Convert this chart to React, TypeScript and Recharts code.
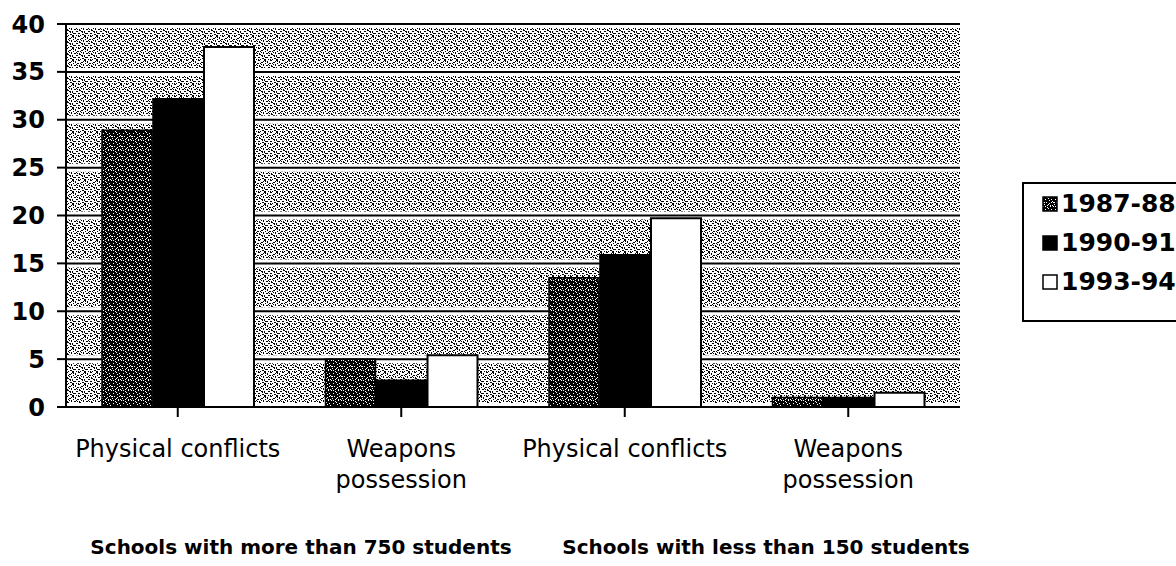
import React from 'react';
import {
    Bar,
    BarChart,
    CartesianGrid,
    Legend,
    XAxis,
    YAxis,
} from 'recharts';

const categoryKeys = ['big-physical', 'big-weapons', 'small-physical', 'small-weapons'];
const categoryLabels = [['Physical conflicts'], ['Weapons', 'possession'], ['Physical conflicts'], ['Weapons', 'possession']];
const values198788 = [28.9, 5, 13.5, 1];
const values199091 = [32.2, 2.8, 15.9, 1];
const values199394 = [37.6, 5.4, 19.7, 1.5];
const seriesNames = ['1987-88', '1990-91', '1993-94'];
const yTicks = [0, 5, 10, 15, 20, 25, 30, 35, 40];
const groupLabels = ['Schools with more than 750 students', 'Schools with less than 150 students'];

const FONT = '"DejaVu Sans", Verdana, sans-serif';

const chartData = categoryKeys.map((key, i) => ({
    key,
    [seriesNames[0]]: values198788[i],
    [seriesNames[1]]: values199091[i],
    [seriesNames[2]]: values199394[i],
}));

// grey noise for the plot background
const bgDots = [
    [0, 0, 2, 1], [3, 1, 1, 2], [6, 0, 2, 1], [9, 2, 2, 1], [1, 3, 1, 1], [5, 3, 2, 1],
    [11, 4, 1, 2], [2, 5, 2, 1], [7, 5, 1, 2], [0, 7, 1, 2], [4, 7, 2, 1], [9, 7, 2, 1],
    [2, 9, 1, 1], [6, 9, 2, 1], [10, 10, 2, 1], [0, 11, 2, 1], [4, 11, 1, 1], [8, 11, 1, 1],
    [3, 2, 1, 1], [8, 3, 1, 1], [10, 8, 1, 1], [1, 9, 1, 1], [5, 5, 1, 1], [8, 6, 1, 1],
    [3, 9, 1, 1], [11, 1, 1, 1], [6, 11, 1, 1], [1, 1, 1, 1], [9, 4, 1, 1], [4, 4, 1, 1],
];
// white specks for the dark 1987-88 bars
const darkDots = [
    [1, 0, 1, 1], [5, 1, 1, 1], [8, 0, 1, 1], [3, 3, 1, 1], [7, 4, 1, 1], [0, 5, 1, 1],
    [4, 6, 1, 1], [9, 6, 1, 1], [2, 8, 1, 1], [6, 8, 1, 1], [0, 9, 1, 1], [8, 9, 1, 1],
    [3, 0, 1, 1], [6, 2, 1, 1], [9, 3, 1, 1], [1, 6, 2, 1], [5, 9, 1, 1], [7, 7, 1, 1],
];

function CategoryTick(props: any) {
    const { x, y, payload } = props;
    const lines = categoryLabels[payload.index] || [];
    return (
        <text x={x} y={y + 38} textAnchor='middle' fontFamily={FONT} fontSize={24} fill='#000'>
            {lines.map((line, i) => (
                <tspan key={i} x={x} dy={i === 0 ? 0 : 31}>
                    {line}
                </tspan>
            ))}
        </text>
    );
}

function Swatch({ index }: { index: number }) {
    const fill = index === 0 ? 'url(#darkStipple)' : index === 1 ? '#000' : '#fff';
    return (
        <svg width={16} height={16} style={{ marginRight: 3 }}>
            <rect x={1} y={1} width={14} height={14} fill={fill} stroke='#000' strokeWidth={1.5} />
        </svg>
    );
}

function LegendBox() {
    return (
        <div
            style={{
                position: 'absolute',
                left: 1022,
                top: 182,
                width: 170,
                height: 140,
                border: '2px solid #000',
                boxSizing: 'border-box',
                background: '#fff',
                fontFamily: FONT,
                fontWeight: 'bold',
                fontSize: 25,
                padding: '0 0 0 18px',
            }}
        >
            {seriesNames.map((name, i) => (
                <div key={name} style={{ display: 'flex', alignItems: 'center', height: 39 }}>
                    <Swatch index={i} />
                    {name}
                </div>
            ))}
        </div>
    );
}

function App() {
    return (
        <div style={{ position: 'relative', width: 1176, height: 566, background: '#fff', overflow: 'hidden' }}>
            <style>{'body{margin:0;}'}</style>
            <BarChart
                width={1176}
                height={566}
                data={chartData}
                margin={{ top: 24, right: 216, left: 0, bottom: 0 }}
                barSize={50}
                barGap={1}
            >
                <defs>
                    <pattern id='bgStipple' width='12' height='12' patternUnits='userSpaceOnUse'>
                        <rect width='12' height='12' fill='#ffffff' />
                        {bgDots.map(([x, y, w, h], i) => (
                            <rect key={i} x={x} y={y} width={w} height={h} fill='#000' />
                        ))}
                    </pattern>
                    <pattern id='darkStipple' width='10' height='10' patternUnits='userSpaceOnUse'>
                        <rect width='10' height='10' fill='#000' />
                        {darkDots.map(([x, y, w, h], i) => (
                            <rect key={i} x={x} y={y} width={w} height={h} fill='#fff' />
                        ))}
                    </pattern>
                </defs>
                <CartesianGrid
                    vertical={false}
                    fill='url(#bgStipple)'
                    fillOpacity={1}
                    stroke='#fff'
                    strokeWidth={8}
                />
                <CartesianGrid vertical={false} stroke='#000' strokeWidth={2} />
                <XAxis
                    dataKey='key'
                    height={159}
                    tick={<CategoryTick />}
                    tickSize={10}
                    tickLine={{ stroke: '#000', strokeWidth: 2 }}
                    axisLine={{ stroke: '#000', strokeWidth: 2 }}
                    interval={0}
                    scale='band'
                />
                <YAxis
                    domain={[0, 40]}
                    ticks={yTicks}
                    width={66}
                    tickSize={9}
                    tickMargin={12}
                    tick={{ fill: '#000', fontSize: 24, fontWeight: 'bold', fontFamily: FONT }}
                    tickLine={{ stroke: '#000', strokeWidth: 2 }}
                    axisLine={{ stroke: '#000', strokeWidth: 2 }}
                    interval={0}
                />
                <YAxis
                    yAxisId='right'
                    orientation='right'
                    domain={[0, 40]}
                    width={0}
                    tick={false}
                    tickLine={false}
                    axisLine={{ stroke: '#000', strokeWidth: 2 }}
                />
                <Legend content={() => null} />
                <Bar dataKey={seriesNames[0]} fill='url(#darkStipple)' stroke='#000' strokeWidth={1.5} isAnimationActive={false} />
                <Bar dataKey={seriesNames[1]} fill='#000' stroke='#000' strokeWidth={1.5} isAnimationActive={false} />
                <Bar dataKey={seriesNames[2]} fill='#fff' stroke='#000' strokeWidth={2} isAnimationActive={false} />
            </BarChart>
            <LegendBox />
            {groupLabels.map((label, i) => (
                <div
                    key={label}
                    style={{
                        position: 'absolute',
                        top: 537,
                        left: i === 0 ? 301 : 766,
                        transform: 'translateX(-50%)',
                        whiteSpace: 'nowrap',
                        fontFamily: FONT,
                        fontWeight: 'bold',
                        fontSize: 20,
                        lineHeight: '20px',
                    }}
                >
                    {label}
                </div>
            ))}
        </div>
    );
}

export default App;
